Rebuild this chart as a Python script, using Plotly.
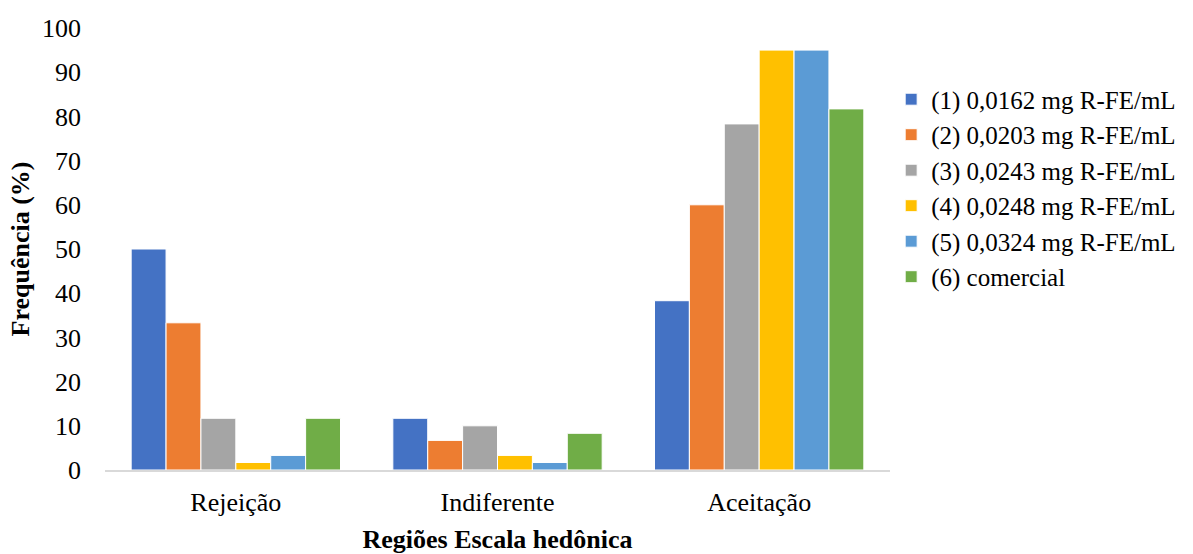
import plotly.graph_objects as go

categories = ["Rejeição", "Indiferente", "Aceitação"]
series_names = [
    "(1) 0,0162 mg R-FE/mL",
    "(2) 0,0203 mg R-FE/mL",
    "(3) 0,0243 mg R-FE/mL",
    "(4) 0,0248 mg R-FE/mL",
    "(5) 0,0324 mg R-FE/mL",
    "(6) comercial",
]
s1 = [50.0, 11.7, 38.3]
s2 = [33.3, 6.7, 60.0]
s3 = [11.7, 10.0, 78.3]
s4 = [1.7, 3.3, 95.0]
s5 = [3.3, 1.7, 95.0]
s6 = [11.7, 8.3, 81.7]
series_values = [s1, s2, s3, s4, s5, s6]
colors = ["#4472C4", "#ED7D31", "#A5A5A5", "#FFC000", "#5B9BD5", "#70AD47"]
y_ticks = list(range(0, 101, 10))

font_family = "Liberation Serif, Times New Roman, serif"
fs = 26

fig = go.Figure()
for name, vals, col in zip(series_names, series_values, colors):
    fig.add_trace(go.Bar(
        x=categories, y=vals, name=name,
        marker=dict(color=col, line=dict(color="white", width=1)),
    ))

fig.update_layout(
    width=1193, height=554,
    margin=dict(l=105, r=303, t=28, b=84),
    paper_bgcolor="white", plot_bgcolor="white",
    barmode="group", bargap=0.2, bargroupgap=0,
    font=dict(family=font_family, size=fs, color="black"),
    legend=dict(
        xref="container", yref="container",
        x=0.747, y=0.862, xanchor="left", yanchor="top",
        font=dict(family=font_family, size=25), itemwidth=30, tracegroupgap=0,
    ),
    showlegend=True,
)
fig.update_xaxes(
    automargin=False,
    showline=True, linecolor="#D9D9D9", linewidth=1.5,
    showgrid=False, ticks="", tickfont=dict(family=font_family, size=fs),
    ticklabelstandoff=8,
    title=dict(text="<b>Regiões Escala hedônica</b>",
               font=dict(family=font_family, size=fs), standoff=14),
)
fig.update_yaxes(
    automargin=False,
    range=[0, 100], tickvals=y_ticks, showgrid=False, showline=False,
    zeroline=False, ticks="", tickfont=dict(family=font_family, size=fs),
    ticklabelstandoff=23,
    title=dict(text="<b>Frequência (%)</b>",
               font=dict(family=font_family, size=fs), standoff=4),
)

fig.write_html("out.html")
